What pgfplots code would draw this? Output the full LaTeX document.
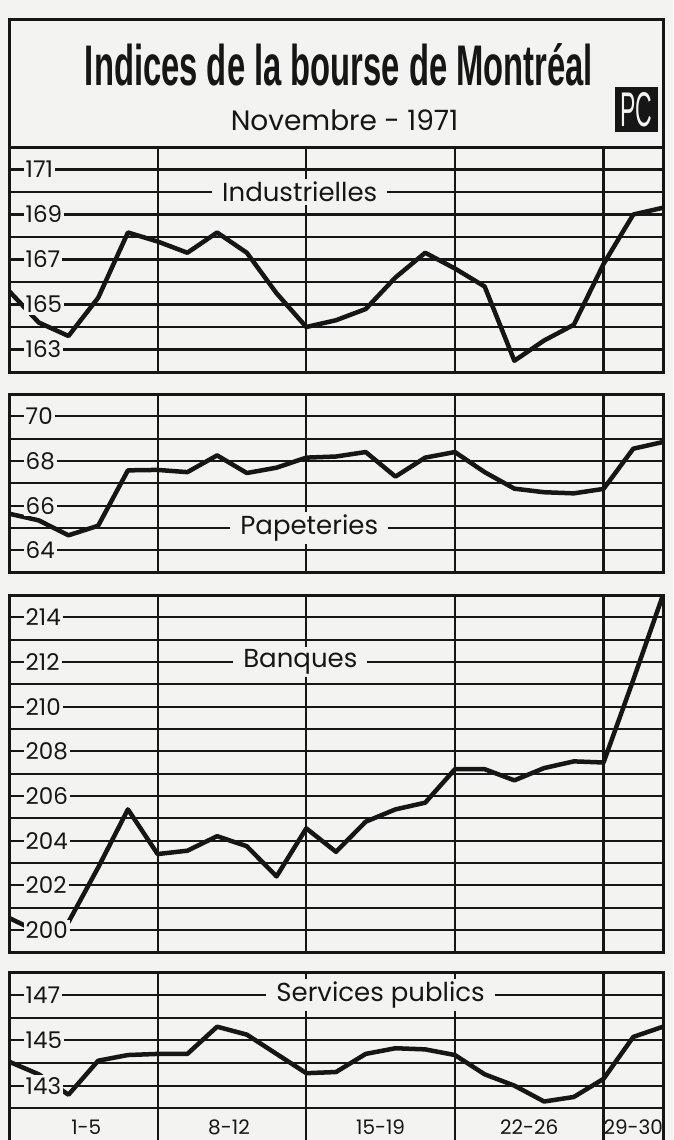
\documentclass[border=0pt]{standalone}
\usepackage{pgfplots}
\usepackage{pgfplotstable}
\pgfplotsset{compat=1.18}
\usepackage{fontspec}
\setmainfont{Poppins}
\newfontfamily\titlefont{Liberation Sans}
\definecolor{paper}{RGB}{243,243,241}
\definecolor{ink}{RGB}{22,22,22}
\pagecolor{paper}

\pgfplotstableread{
d v
0 165.6
1 164.2
2 163.6
3 165.3
4 168.2
5 167.8
6 167.3
7 168.2
8 167.3
9 165.5
10 164.0
11 164.3
12 164.8
13 166.2
14 167.3
15 166.6
16 165.8
17 162.5
18 163.4
19 164.1
20 166.8
21 169.0
22 169.3
}\indus

\pgfplotstableread{
d v
0 65.64
1 65.34
2 64.67
3 65.10
4 67.58
5 67.60
6 67.50
7 68.25
8 67.46
9 67.70
10 68.15
11 68.20
12 68.40
13 67.30
14 68.15
15 68.40
16 67.50
17 66.76
18 66.60
19 66.55
20 66.75
21 68.55
22 68.85
}\papet

\pgfplotstableread{
d v
0 200.54
1 199.90
2 200.35
3 202.80
4 205.40
5 203.40
6 203.55
7 204.20
8 203.75
9 202.40
10 204.55
11 203.50
12 204.85
13 205.40
14 205.70
15 207.20
16 207.20
17 206.70
18 207.25
19 207.55
20 207.50
21 211.20
22 215.00
}\banq

\pgfplotstableread{
d v
0 144.06
1 143.50
2 142.60
3 144.10
4 144.35
5 144.40
6 144.40
7 145.60
8 145.25
9 144.40
10 143.55
11 143.60
12 144.40
13 144.65
14 144.60
15 144.35
16 143.50
17 143.00
18 142.30
19 142.50
20 143.30
21 145.15
22 145.60
}\serv

\tikzset{
  seclabel/.style={fill=paper, inner xsep=10pt, inner ysep=3pt, text=ink, font=\fontsize{26}{26}\selectfont},
}

\pgfplotsset{
  layers/mylayers/.define layer set={
    axis background,axis grid,axis ticks,axis lines,pre main,main,axis tick labels,axis descriptions,axis foreground
  }{/pgfplots/layers/standard},
  panel/.style={
    set layers=mylayers,
    scale only axis, width=654pt,
    anchor=north west,
    xmin=0, xmax=22,
    xtick={2.6,7.4,12.5,17.5,21},
    minor xtick={5,10,15,20},
    xminorgrids,
    xticklabels={},
    ymajorgrids, yminorgrids,
    major tick length=0pt, minor tick length=0pt,
    grid style={ink, line width=2.2pt},
    minor grid style={ink, line width=2.2pt},
    major grid style={ink, line width=2.2pt},
    axis line style={ink, line width=3pt},
    /pgf/number format/assume math mode=true,
    yticklabel style={font=\fontsize{23}{23}\selectfont, anchor=west, xshift=14.5pt, fill=paper, inner sep=2pt, text=ink},
    xticklabel style={font=\fontsize{20}{20}\selectfont, anchor=base, yshift=16pt, inner sep=0.5pt, text=ink},
  },
  dataline/.style={ink, line width=4.5pt, line join=round, line cap=round, no markers},
}

\begin{document}
\begin{tikzpicture}
% header
\draw[ink, line width=3pt] (9pt,-147pt) |- (663pt,-20pt) -- (663pt,-147pt);
\node[anchor=base, inner sep=0pt, text=ink] at (339pt,-85pt) {\resizebox{508pt}{42pt}{\titlefont\bfseries Indices de la bourse de Montréal}};
\node[anchor=base, inner sep=0pt, text=ink] at (344.5pt,-130pt) {\fontsize{28}{28}\selectfont Novembre - 1971};
\node[fill=ink, minimum width=43pt, minimum height=45pt, inner sep=0pt, text=paper] at (636.5pt,-109.5pt) {\resizebox{32pt}{34pt}{\titlefont PC}};

% Industrielles
\begin{axis}[panel, at={(9pt,-147pt)}, height=225pt,
  ymin=162, ymax=172, ytick={163,165,...,171}, minor ytick={162,...,172}]
  \addplot[dataline] table[x=d, y=v] {\indus};
  \node[seclabel] at (axis cs:9.78,170) {Industrielles};
\end{axis}

% Papeteries
\begin{axis}[panel, at={(9pt,-394pt)}, height=178.6pt,
  ymin=63, ymax=71, ytick={64,66,68,70}, minor ytick={63,...,71}]
  \addplot[dataline] table[x=d, y=v] {\papet};
  \node[seclabel] at (axis cs:10.1,65) {Papeteries};
\end{axis}

% Banques
\begin{axis}[panel, at={(9pt,-595pt)}, height=357.3pt,
  ymin=199, ymax=215, ytick={200,202,...,214}, minor ytick={199,...,215}]
  \addplot[dataline] table[x=d, y=v] {\banq};
  \node[seclabel] at (axis cs:9.8,212) {Banques};
\end{axis}

% Services publics
\begin{axis}[panel, at={(9pt,-972.3pt)}, height=177.7pt,
  ymin=140.16, ymax=148, ytick={143,145,147}, minor ytick={142,...,148},
  xticklabels={1-5,8-12,15-19,22-26,29-30}]
  \addplot[dataline] table[x=d, y=v] {\serv};
  \node[seclabel] at (axis cs:12.5,147) {Services publics};
\end{axis}

\pgfresetboundingbox
\path[use as bounding box] (0pt,0pt) rectangle (673pt,-1140pt);
\end{tikzpicture}
\end{document}
